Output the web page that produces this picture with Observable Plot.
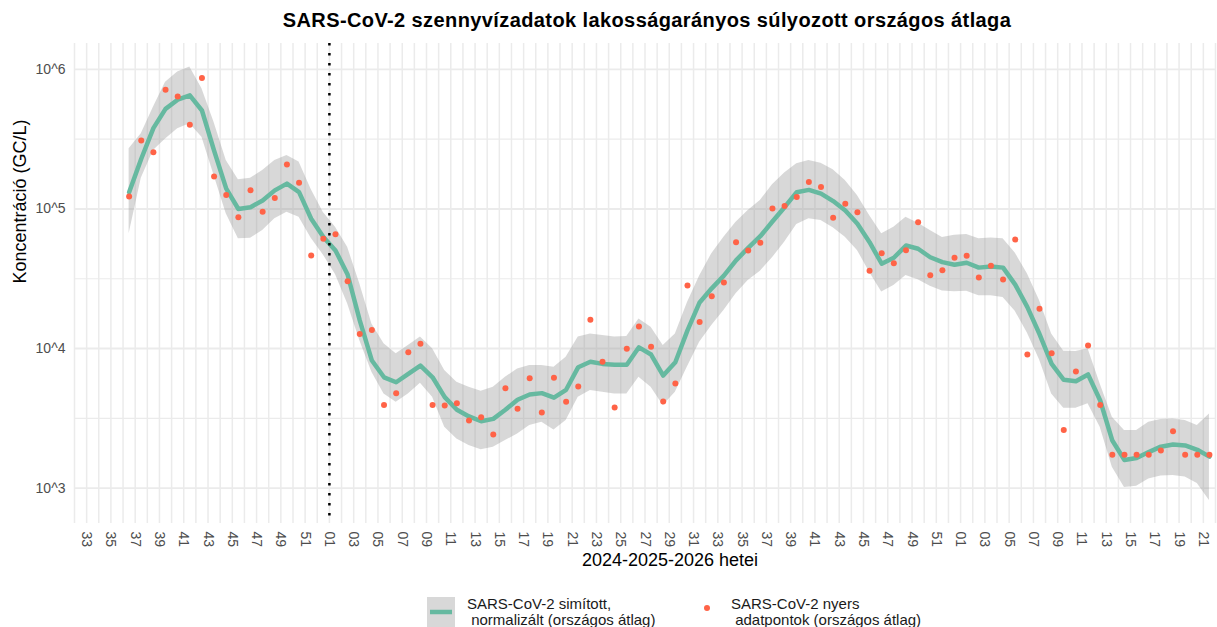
<!DOCTYPE html>
<html>
<head>
<meta charset="utf-8">
<script src="https://cdn.jsdelivr.net/npm/d3@7"></script>
<script src="https://cdn.jsdelivr.net/npm/@observablehq/plot@0.6"></script>
<style>
  body { margin: 0; background: #fff; font-family: "Liberation Sans", Arial, sans-serif; }
  #wrap { position: relative; width: 1217px; height: 627px; overflow: hidden; background: #fff; }
  #chart { position: absolute; top: 0; left: 0; }
  #title { position: absolute; top: 8px; left: 74px; width: 1146px; text-align: center;
           font-weight: bold; font-size: 20px; letter-spacing: 0.4px; line-height: 24px; color: #000; }
  .legtxt { position: absolute; font-size: 15px; line-height: 16px; color: #1a1a1a; white-space: pre; }
  .legkey { position: absolute; }
</style>
</head>
<body>
<div id="wrap">
  <div id="chart"></div>
  <div id="title"></div>
  <div id="legend"></div>
</div>
<script>
// ---- categories (ISO weeks) ----
const weeks2024 = d3.range(36, 53);   // 2024 W36..W52
const weeks2025 = d3.range(1, 53);    // 2025 W01..W52
const weeks2026 = d3.range(1, 22);    // 2026 W01..W21

// ---- raw data points (GC/L) ----
const raw2024 = [123000,310000,255000,714000,640000,402000,867000,171000,126000,87300,136000,95500,120000,208000,154000,46500,61100];
const raw2025 = [65900,30400,12700,13600,3940,4790,9400,10800,3940,3900,4060,3050,3220,2420,5190,3700,6120,3480,6170,4150,5350,16100,8040,3780,9950,14400,10300,4170,5610,28300,15500,23700,29700,57800,50500,57300,101000,105000,122000,156000,144000,86500,109000,94800,36100,48200,40900,50700,80500,33500,36400,44700];
const raw2026 = [46200,32300,39200,31300,60400,9060,19300,9250,2610,6840,10500,3940,1730,1730,1730,1730,1860,2550,1730,1730,1730];

// ---- smoothed, normalised curve (GC/L) ----
const smooth2024 = [132000,229000,380000,522000,607000,652000,508000,262000,140000,100000,103000,115000,136000,152000,132000,85100,63100];
const smooth2025 = [50500,33900,15900,8200,6220,5730,6580,7550,6220,4480,3640,3260,3010,3130,3640,4290,4680,4790,4440,5060,7350,8040,7760,7640,7640,10200,9060,6400,7980,13500,21400,27000,33300,42800,52700,63800,81300,103000,132000,137000,129000,114000,97500,78300,57800,40500,44700,54700,51900,45100,41600,39800];
const smooth2026 = [41200,38000,38700,38000,28700,19800,12700,7760,5970,5830,6520,4240,2190,1590,1640,1810,1980,2050,2020,1880,1680];

// ---- confidence band (GC/L) ----
const upper2024 = [270000,346000,537000,811000,957000,1040000,728000,417000,223000,162000,166000,189000,223000,242000,217000,138000,94400];
const upper2025 = [74100,53200,29100,15000,10800,9160,10500,12100,9950,6950,5730,5280,4940,5280,6220,7140,7550,7550,7350,8670,12100,12700,12400,12100,12200,16300,14200,10500,12700,21400,33100,47800,62800,80500,97500,115000,149000,181000,211000,223000,213000,191000,160000,125000,89700,66400,74100,87300,79100,70100,62500,64900];
const upper2026 = [65600,61100,61900,61200,48400,34300,22100,12700,9570,9510,9950,5580,3220,2580,2580,2960,3100,3130,3050,2810,3400];
const lower2024 = [66400,166000,263000,318000,376000,408000,327000,174000,92500,61100,61800,70100,85100,94800,87300,61700,46800];
const lower2025 = [33900,20900,11400,6760,4730,4120,4730,5640,4480,2730,2250,2020,1880,1960,2190,2440,2810,2960,2610,3050,4480,5000,4860,4730,4730,6220,5280,3900,4860,7410,11100,14600,18700,24700,30700,35800,44700,57800,77400,85100,82800,73300,62800,50500,35200,25400,28300,33300,31100,28000,25800,25500];
const lower2026 = [25700,23900,23900,23200,18500,12900,8320,4730,3730,3730,4020,2730,1410,1010,1030,1160,1220,1230,1200,1080,813];

// ---- tick labels ----
const xTickLabels = ["33","35","37","39","41","43","45","47","49","51",
  "01","03","05","07","09","11","13","15","17","19","21","23","25","27","29","31","33","35","37","39","41","43","45","47","49","51",
  "01","03","05","07","09","11","13","15","17","19","21"];
const yTickValues = [1e3, 1e4, 1e5, 1e6];
const yTickLabels = ["10^3", "10^4", "10^5", "10^6"];

const titleText = "SARS-CoV-2 szennyvízadatok lakosságarányos súlyozott országos átlaga";
const xTitle = "2024-2025-2026 hetei";
const yTitle = "Koncentráció (GC/L)";
const legendLine = "SARS-CoV-2 simított,\n normalizált (országos átlag)";
const legendDot = "SARS-CoV-2 nyers\n adatpontok (országos átlag)";

const lineColor = "#66b9a0";
const dotColor = "#ff6347";

// week index: 2024-W33 = 0
function weekIndex(year, week) {
  if (year === 2024) return week - 33;
  if (year === 2025) return 20 + week - 1;
  return 72 + week - 1;
}

const data = [];
function addYear(year, weeks, raw, smooth, up, lo) {
  weeks.forEach((w, i) => data.push({
    x: weekIndex(year, w) + 0.5,
    raw: raw[i], smooth: smooth[i], hi: up[i], lo: lo[i]
  }));
}
addYear(2024, weeks2024, raw2024, smooth2024, upper2024, lower2024);
addYear(2025, weeks2025, raw2025, smooth2025, upper2025, lower2025);
addYear(2026, weeks2026, raw2026, smooth2026, upper2026, lower2026);

const xTickPos = xTickLabels.map((_, i) => i * 2);
const xLabelMap = new Map(xTickPos.map((p, i) => [p, xTickLabels[i]]));
const yLabelMap = new Map(yTickValues.map((v, i) => [v, yTickLabels[i]]));
const gridX = d3.range(-1, 94);
const yMinor = [10 ** 3.5, 10 ** 4.5, 10 ** 5.5];

const chart = Plot.plot({
  width: 1217,
  height: 580,
  marginTop: 43,
  marginBottom: 57,
  marginLeft: 74,
  marginRight: 2,
  style: { fontFamily: "'Liberation Sans', Arial, sans-serif", overflow: "visible", background: "transparent" },
  x: { type: "linear", domain: [-1, 93] },
  y: { type: "log", domain: [10 ** 2.746, 10 ** 6.186] },
  marks: [
    Plot.ruleX(gridX, { x: d => d, stroke: "#ebebeb", strokeWidth: 1.5 }),
    Plot.ruleY(yMinor, { y: d => d, stroke: "#ebebeb", strokeWidth: 1.2 }),
    Plot.ruleY(yTickValues, { y: d => d, stroke: "#ebebeb", strokeWidth: 1.8 }),
    Plot.areaY(data, { x: "x", y1: "lo", y2: "hi", fill: "#999999", fillOpacity: 0.38 }),
    Plot.line(data, { x: "x", y: "smooth", stroke: lineColor, strokeWidth: 4.5, strokeLinejoin: "round" }),
    Plot.dot(data, { x: "x", y: "raw", r: 3, fill: dotColor, stroke: "none" }),
    Plot.ruleX([weekIndex(2025, 1)], { x: d => d, stroke: "#000", strokeWidth: 2.5, strokeDasharray: "2.5 7.5" }),
    Plot.axisX({ ticks: xTickPos, tickFormat: d => xLabelMap.get(d), tickSize: 0, tickPadding: 8,
                 tickRotate: 90, fontSize: 14, fill: "#4d4d4d", label: null }),
    Plot.axisY({ ticks: yTickValues, tickFormat: d => yLabelMap.get(d), tickSize: 0, tickPadding: 9,
                 fontSize: 14, fill: "#4d4d4d", label: null }),
    Plot.text([xTitle], { text: d => d, frameAnchor: "bottom", dy: 42, dx: 25, fontSize: 18, fill: "#000" }),
    Plot.text([yTitle], { text: d => d, frameAnchor: "left", dx: -54, rotate: -90, fontSize: 18, fill: "#000" })
  ]
});
document.getElementById("chart").appendChild(chart);
document.getElementById("title").textContent = titleText;

// legend (HTML)
const leg = document.getElementById("legend");
leg.innerHTML = `
  <svg class="legkey" style="left:427px;top:597px" width="28" height="30">
    <rect x="0" y="0" width="28" height="30" fill="#999999" fill-opacity="0.38"></rect>
    <line x1="3" x2="25" y1="15" y2="15" stroke="${lineColor}" stroke-width="4.5"></line>
  </svg>
  <div class="legtxt" style="left:467px;top:596px"></div>
  <svg class="legkey" style="left:700px;top:601px" width="14" height="14">
    <circle cx="7" cy="7" r="3" fill="${dotColor}"></circle>
  </svg>
  <div class="legtxt" style="left:731px;top:596px"></div>`;
const txts = leg.querySelectorAll(".legtxt");
txts[0].textContent = legendLine;
txts[1].textContent = legendDot;
</script>
</body>
</html>
